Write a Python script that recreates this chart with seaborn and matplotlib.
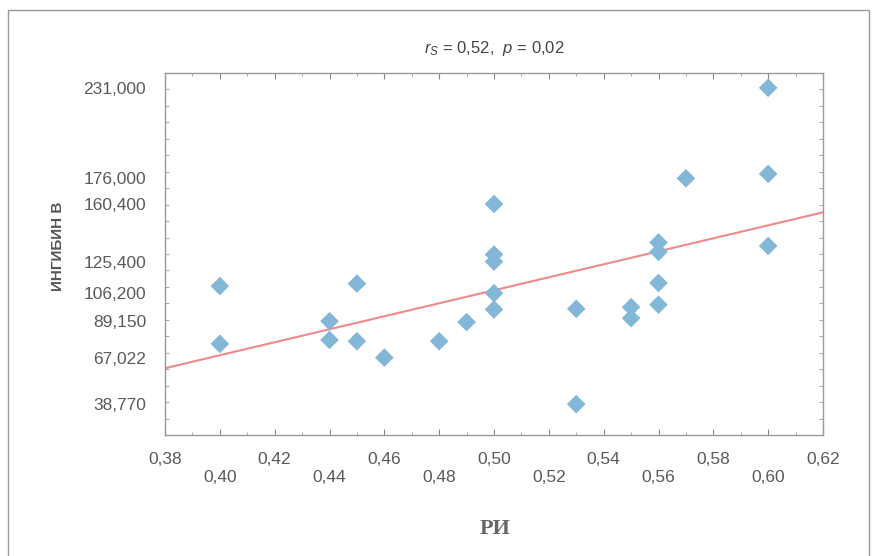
import matplotlib
matplotlib.use("Agg")
import matplotlib.pyplot as plt
import matplotlib.ticker as mticker
from matplotlib.patches import Rectangle
import seaborn as sns
import pandas as pd

# ---- data ----
ri = [0.40, 0.40, 0.44, 0.44, 0.45, 0.45, 0.46, 0.48, 0.49,
      0.50, 0.50, 0.50, 0.50, 0.50, 0.53, 0.53, 0.55, 0.55,
      0.56, 0.56, 0.56, 0.56, 0.57, 0.60, 0.60, 0.60]
inhibin_b = [110500, 75400, 89150, 77800, 112000, 77000, 67022, 77000, 88600,
             160400, 129700, 125400, 106200, 96300, 96700, 38770, 97700, 91000,
             137000, 131300, 112400, 99200, 176000, 231000, 178700, 134900]

y_tick_values = [231000, 176000, 160400, 125400, 106200, 89150, 67022, 38770]
y_tick_labels = ["231,000", "176,000", "160,400", "125,400", "106,200", "89,150", "67,022", "38,770"]
x_tick_values = [0.38, 0.40, 0.42, 0.44, 0.46, 0.48, 0.50, 0.52, 0.54, 0.56, 0.58, 0.60, 0.62]
x_tick_labels = ["0,38", "0,40", "0,42", "0,44", "0,46", "0,48", "0,50", "0,52", "0,54", "0,56", "0,58", "0,60", "0,62"]

title_text = r"$r_S$ = 0,52,  $p$ = 0,02"
x_label = "РИ"
y_label = "ИНГИБИН В"

df = pd.DataFrame({"РИ": ri, "ИНГИБИН В": inhibin_b})

sns.set_style("white")
plt.rcParams["font.family"] = ["Liberation Sans", "DejaVu Sans"]
plt.rcParams["mathtext.fontset"] = "custom"
plt.rcParams["mathtext.rm"] = "Liberation Sans"
plt.rcParams["mathtext.it"] = "Liberation Sans:italic"

W, H = 878, 556
fig = plt.figure(figsize=(W / 100, H / 100), dpi=100)
fig.patch.set_facecolor("white")
ax = fig.add_axes([165 / W, 1 - 435 / H, (823 - 165) / W, (435 - 73) / H])

ax.set_xlim(0.38, 0.62)
ax.set_ylim(20000, 240000)

sns.regplot(data=df, x="РИ", y="ИНГИБИН В", ax=ax, ci=None, truncate=False,
            scatter=False, line_kws=dict(color="#f08a8a", lw=1.5))
sns.scatterplot(data=df, x="РИ", y="ИНГИБИН В", ax=ax, marker="D", s=90,
                color="#82b7d8", edgecolor="none", zorder=3)

ax.set_xlim(0.38, 0.62)
ax.set_ylim(20000, 240000)

tick_col = "#5a5a5a"
ax.set_xticks(x_tick_values)
ax.set_xticklabels([("\n" + l) if i % 2 else l for i, l in enumerate(x_tick_labels)],
                   fontsize=12.5, color=tick_col, linespacing=1.25)
ax.xaxis.set_minor_locator(mticker.MultipleLocator(0.01))
ax.set_yticks(y_tick_values)
ax.set_yticklabels(y_tick_labels, fontsize=12.5, color=tick_col)
ax.yaxis.set_minor_locator(mticker.MultipleLocator(10000))

ax.tick_params(axis="x", which="major", direction="in", length=4, width=0.8,
               color="#888888", top=True, bottom=True, pad=12)
ax.tick_params(axis="x", which="minor", direction="in", length=2, width=0.6,
               color="#999999", top=True, bottom=True)
ax.tick_params(axis="y", which="major", direction="in", length=0, pad=13.5, left=True, right=True)
ax.tick_params(axis="y", which="minor", direction="in", length=3, width=0.6,
               color="#999999", left=True, right=True)

for sp in ax.spines.values():
    sp.set_color("#999999")
    sp.set_linewidth(1.0)

ax.set_xlabel(x_label, fontsize=16, fontweight="bold", color="#666666",
              family=["Liberation Serif", "DejaVu Serif"])
ax.xaxis.set_label_coords((495 - 165) / (823 - 165), (435 - 519) / (435 - 73))
ax.xaxis.label.set_va("top")
ax.set_ylabel(y_label, fontsize=11, fontweight="bold", color="#555555")
ax.yaxis.set_label_coords((58 - 165) / (823 - 165), (435 - 246) / (435 - 73))
ax.yaxis.label.set_va("center")

fig.text(494 / W, 1 - 48 / H, title_text, ha="center", va="center",
         fontsize=12, color="#444444")

# outer scanned-page frame
fig.patches.append(Rectangle((8 / W, -0.01), (869 - 8) / W, 1 - 10 / H + 0.01,
                             transform=fig.transFigure, fill=False,
                             edgecolor="#9a9a9a", lw=1.0))

fig.savefig("out.png", dpi=100, facecolor="white")
